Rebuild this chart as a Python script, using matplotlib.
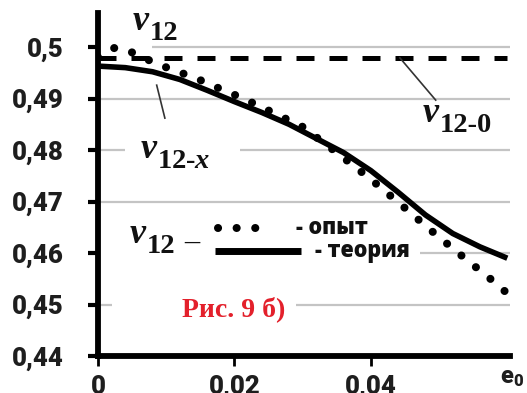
import numpy as np
import matplotlib
matplotlib.use("Agg")
import matplotlib.pyplot as plt
from matplotlib.patches import Rectangle

# --- data ---
theory_x = [0.0, 0.004, 0.008, 0.012, 0.016, 0.02, 0.024, 0.028, 0.0325,
            0.036, 0.04, 0.044, 0.048, 0.052, 0.056, 0.06]
theory_y = [0.4963, 0.4960, 0.4952, 0.4937, 0.4916, 0.4894, 0.4873, 0.4850, 0.4819,
            0.4795, 0.4760, 0.4718, 0.4674, 0.4638, 0.4612, 0.4590]

exp_x = [0.0, 0.0025, 0.0054, 0.008, 0.0103, 0.013, 0.0157, 0.0182, 0.0208, 0.0234,
         0.03, 0.0355, 0.0401, 0.0445, 0.0489, 0.0532, 0.0577, 0.0598]
exp_y = [0.4980, 0.4999, 0.4988, 0.4971, 0.4959, 0.4946, 0.4932, 0.4917, 0.4903, 0.4887,
         0.4845, 0.4790, 0.4742, 0.4693, 0.4643, 0.4596, 0.4548, 0.4524]

nu0_x = [0.0, 0.06]
nu0_y = [0.4979, 0.4979]

x_ticks = [0.0, 0.02, 0.04]
x_tick_labels = ["0", "0,02", "0,04"]
y_ticks = [0.44, 0.45, 0.46, 0.47, 0.48, 0.49, 0.50]
y_tick_labels = ["0,44", "0,45", "0,46", "0,47", "0,48", "0,49", "0,5"]

plt.rcParams.update({
    "mathtext.fontset": "custom",
    "mathtext.rm": "Liberation Serif:bold",
    "mathtext.it": "Liberation Serif:italic:bold",
    "mathtext.bf": "Liberation Serif:bold",
    "mathtext.sf": "Roboto:black",
})

DOT_LW = 5.8
DOTS = [0.01, 2.3]
INK = "#111111"
TICK_FONT = ["Roboto", "DejaVu Sans"]


def mask(ax, x0, x1, y, h=0.0012):
    # white patch hiding a piece of grid line behind a label
    ax.add_patch(Rectangle((x0, y - h / 2), x1 - x0, h, fc="white", ec="none", zorder=1.5))


def nu_label(ax, x, y, sub):
    t = ax.text(x, y, "ν", fontsize=26, family="Liberation Serif", style="italic",
                weight="bold", color=INK, va="baseline", zorder=5)
    ax.annotate(sub, xy=(1, 0), xycoords=t, xytext=(0.5, -5.5), textcoords="offset points",
                fontsize=20.5, family="Liberation Serif", weight="bold", color=INK,
                va="bottom", ha="left", zorder=5)


fig = plt.figure(figsize=(5.27, 3.93), dpi=100)
ax = fig.add_axes([0.186, 0.094, 0.7818, 0.8728])

ax.set_xlim(0, 0.0604)
ax.set_ylim(0.44, 0.5066)
ax.set_yticks(y_ticks)
ax.set_yticklabels(y_tick_labels)
ax.set_xticks(x_ticks)
ax.set_xticklabels(x_tick_labels)

for s in ["top", "right"]:
    ax.spines[s].set_visible(False)
for s in ["left", "bottom"]:
    ax.spines[s].set_linewidth(4.2)
    ax.spines[s].set_color("black")

ax.grid(axis="y", color="#c4c4c4", linewidth=1.6)
ax.set_axisbelow(True)

ax.tick_params(axis="y", direction="out", length=7, width=3, pad=18, colors="black",
               labelcolor="#1e1e1e")
ax.tick_params(axis="x", direction="out", length=7, width=2, pad=6.5, colors="black",
               labelcolor="#1e1e1e")
for lab in ax.get_xticklabels() + ax.get_yticklabels():
    lab.set_family(TICK_FONT)
    lab.set_fontweight(900)
    lab.set_fontsize(18.5)

# grid pieces hidden behind labels
mask(ax, 0.0003, 0.0079, 0.50)
mask(ax, 0.0040, 0.0208, 0.48)
mask(ax, 0.0003, 0.0472, 0.46)
mask(ax, 0.0021, 0.0290, 0.45)

# curves
ax.plot(nu0_x, nu0_y, color="black", lw=3.6, dashes=[3.6, 3.0], dash_capstyle="butt",
        zorder=3)
ax.plot(theory_x, theory_y, color="black", lw=4.0, solid_capstyle="butt", zorder=3)
ax.plot(exp_x, exp_y, color="black", lw=DOT_LW, dashes=DOTS, dash_capstyle="round",
        zorder=4)

# labels
nu_label(ax, 0.0051, 0.5033, "12")
nu_label(ax, 0.0062, 0.47845, "12-$x$")
nu_label(ax, 0.0476, 0.4854, "12-0")
ax.plot([0.0086, 0.0098], [0.4926, 0.4862], color="#333333", lw=1.2, zorder=3)
ax.plot([0.04425, 0.0495], [0.4979, 0.4897], color="#333333", lw=1.2, zorder=3)

# hand-made legend
nu_label(ax, 0.0047, 0.4619, "12")
ax.text(0.0127, 0.4621, "–", fontsize=22, family="Liberation Serif", color=INK,
        va="center", zorder=5)
ax.plot([0.0176, 0.0257], [0.4649, 0.4649], color="black", lw=DOT_LW, dashes=DOTS,
        dash_capstyle="round", zorder=4)
ax.plot([0.0171, 0.0297], [0.4604, 0.4604], color="black", lw=5, solid_capstyle="butt",
        zorder=4)
leg_kw = dict(fontsize=15.5, fontweight=800, family=["Open Sans", "DejaVu Sans"],
              color=INK, va="center", zorder=5)
ax.text(0.0290, 0.4649, "- опыт", **leg_kw)
ax.text(0.0318, 0.4604, "- теория", **leg_kw)

ax.text(0.0123, 0.4491, "Рис. 9 б)", fontsize=20, fontweight="bold",
        family="Liberation Serif", color="#e3202b", va="center", zorder=5)

ax.text(1.005, -0.06, r"$\mathsf{e_0}$", transform=ax.transAxes, fontsize=17,
        color="#1e1e1e", ha="center", va="center", clip_on=False)

fig.savefig("out.png", dpi=100)
